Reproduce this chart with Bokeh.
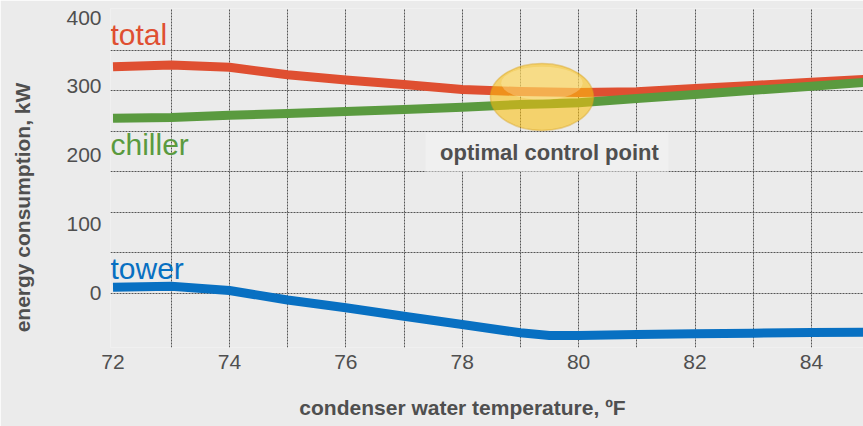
import math
from bokeh.plotting import figure
from bokeh.models import Range1d, FixedTicker, Label, BoxAnnotation
from bokeh.embed import file_html
from bokeh.resources import INLINE

# ---------------- data ----------------
temps = [72, 73, 74, 75, 76, 77, 78, 79, 79.5, 80, 81, 82, 83, 84, 85]
total = [328.7, 331.2, 327.9, 317.0, 309.4, 302.9, 295.6, 292.7, 292.0, 291.3, 292.4, 297.0, 301.5, 306.1, 310.7]
chiller = [254.0, 255.0, 258.3, 260.8, 263.7, 266.6, 270.0, 273.9, 275.0, 276.5, 282.5, 288.5, 294.5, 300.5, 306.5]
tower = [8.7, 10.2, 3.9, -9.9, -21.2, -33.4, -45.4, -57.5, -61.5, -61.5, -60.0, -59.0, -58.0, -57.0, -56.5]

x_ticks = [72, 74, 76, 78, 80, 82, 84]
y_ticks = [0, 100, 200, 300, 400]
x_grid = [73, 74, 75, 76, 77, 78, 79, 80, 81, 82, 83, 84]
y_grid_step = 58.8
y_grid = [i * y_grid_step for i in range(7)]

optimal_temp = 79.37
optimal_kw = 284.8

series_names = ["total", "chiller", "tower"]
x_title = "condenser water temperature, ºF"
y_title = "energy consumption, kW"
note = "optimal control point"

# ---------------- layout ----------------
W, H = 863, 426
FL, FT, FB, FR = 110, 8, 79, 0
X0, X1 = 71.957, 84.895
Y0, Y1 = -78.8, 413.2
FW = W - FL - FR
FH = H - FT - FB

def sx(px):
    return X0 + (px - FL) / FW * (X1 - X0)

def sy(py):
    return Y1 - (py - FT) / FH * (Y1 - Y0)

BG = "#EBEBEB"
TXT = "#4F4F4F"
FONT = "Liberation Sans"
RED, GREEN, BLUE = "#DF4F31", "#5A9A3F", "#0870C2"

p = figure(width=W, height=H, x_range=Range1d(X0, X1), y_range=Range1d(Y0, Y1),
           output_backend="svg", toolbar_location=None,
           min_border_left=FL, min_border_right=FR, min_border_top=FT, min_border_bottom=FB)
p.background_fill_color = BG
p.border_fill_color = BG
p.outline_line_color = None

for ax in (p.xaxis[0], p.yaxis[0]):
    ax.axis_line_color = None
    ax.major_tick_line_color = None
    ax.minor_tick_line_color = None
    ax.major_tick_out = 0
    ax.major_tick_in = 0
    ax.minor_tick_out = 0
    ax.minor_tick_in = 0
    ax.major_label_text_font = FONT
    ax.major_label_text_font_size = "21px"
    ax.major_label_text_color = TXT
p.xaxis[0].ticker = FixedTicker(ticks=x_ticks)
p.yaxis[0].ticker = FixedTicker(ticks=y_ticks)
p.xaxis[0].major_label_standoff = 7
p.yaxis[0].major_label_standoff = 9

p.xgrid[0].ticker = FixedTicker(ticks=x_grid)
p.ygrid[0].ticker = FixedTicker(ticks=y_grid)
for g in (p.xgrid[0], p.ygrid[0]):
    g.grid_line_color = "#555555"
    g.grid_line_width = 1
    g.grid_line_dash = "2 1"

# lines
p.line(temps, tower, line_color=BLUE, line_width=9, line_join="round")
p.line(temps, total, line_color=RED, line_width=9, line_join="round")
p.line(temps, chiller, line_color=GREEN, line_width=9, line_join="round")

# optimal point highlight
p.ellipse(x=[optimal_temp], y=[optimal_kw], width=1.77, height=97,
          fill_color="#FAC010", fill_alpha=0.58, line_color="#D9A520", line_alpha=0.45, line_width=1.5)
p.ellipse(x=[optimal_temp], y=[optimal_kw + 20], width=1.4, height=48,
          fill_color="#FFF6C8", fill_alpha=0.3, line_color=None)

# note box and text
p.add_layout(BoxAnnotation(left=sx(425), right=sx(668), top=sy(132), bottom=sy(171),
                           fill_color="#F0F0F0", fill_alpha=1.0, line_color=None))
p.add_layout(Label(x=sx(549), y=sy(160 - 8.5), text=note, text_font=FONT, text_font_size="22px",
                   text_font_style="bold", text_color=TXT, text_align="center",
                   text_baseline="middle"))

# series labels (middle of text)
for name, color, base in zip(series_names, [RED, GREEN, BLUE], [45, 155, 279]):
    p.add_layout(Label(x=sx(110), y=sy(base - 11.5), text=name, text_font=FONT, text_font_size="30px",
                       text_color=color, text_align="left", text_baseline="middle"))

# axis titles (in side panels, so they are not clipped to the frame)
p.add_layout(Label(x=462 - FL, y=-12.5, x_units="screen", y_units="screen", text=x_title,
                   text_font=FONT, text_font_size="21px", text_font_style="bold",
                   text_color=TXT, text_align="center", text_baseline="middle"), "below")
p.add_layout(Label(x=-18, y=140, x_units="screen", y_units="screen", text=y_title,
                   text_font=FONT, text_font_size="21px", text_font_style="bold",
                   text_color=TXT, text_align="center", text_baseline="middle",
                   angle=math.pi / 2), "left")

open("out.html", "w").write(file_html(p, INLINE))
